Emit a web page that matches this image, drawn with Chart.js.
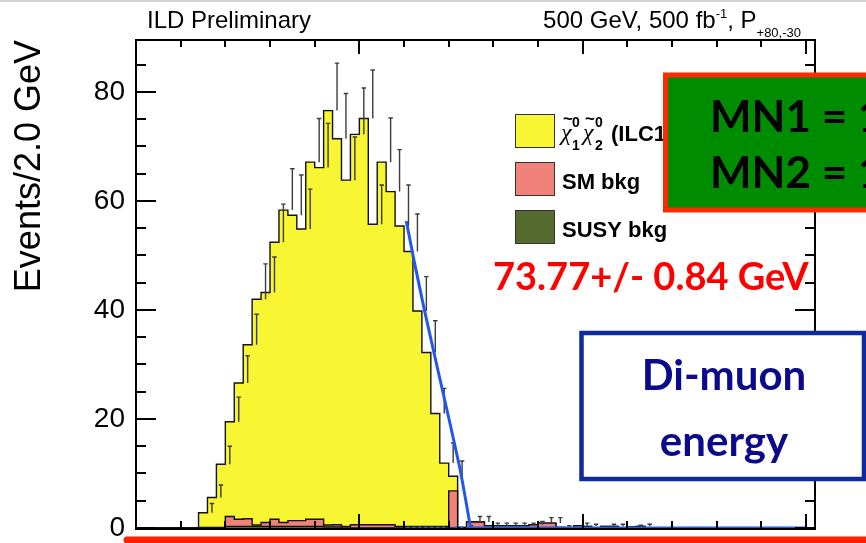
<!DOCTYPE html>
<html>
<head>
<meta charset="utf-8">
<script src="https://cdn.jsdelivr.net/npm/chart.js@4.4.1/dist/chart.umd.min.js"></script>
<style>
  html, body { margin: 0; padding: 0; background: #fff; }
  #wrap { width: 866px; height: 543px; }
</style>
</head>
<body>
<div id="wrap"><canvas id="chart" width="866" height="543"></canvas></div>
<script>
// di-muon energy histogram, 2 GeV bins from 0 to 152 GeV
const BIN_WIDTH = 2;
const binEdges = Array.from({ length: 77 }, (_, i) => i * BIN_WIDTH);

// chi1 chi2 signal
const signal = [
  0, 0, 0, 0, 0, 0, 0, 0, 2.7, 5.5,
  11.6, 17.4, 25.0, 31.9, 41.4, 42.2, 50.8, 57.3, 56.0, 53.5,
  65.5, 64.5, 76.0, 70.8, 63.5, 71.6, 74.5, 55.1, 66.5, 61.1,
  55.1, 50.4, 39.5, 31.9, 20.7, 11.6, 2.7, 0, 0, 0,
  0, 0, 0, 0, 0, 0, 0, 0, 0, 0,
  0, 0, 0, 0, 0, 0, 0, 0, 0, 0,
  0, 0, 0, 0, 0, 0, 0, 0, 0, 0,
  0, 0, 0, 0, 0, 0
];

const smBkg = [
  0, 0, 0, 0, 0, 0, 0, 0, 0.1, 0.1,
  0.1, 1.8, 1.3, 1.4, 0.25, 0.7, 1.3, 0.7, 1.05, 1.05,
  1.3, 1.3, 0.35, 0.4, 0.3, 0.6, 0.6, 0.6, 0.6, 0.6,
  0.3, 0.3, 0.3, 0.3, 0.3, 0.3, 6.8, 0.1, 1.1, 1.1,
  0.4, 0.4, 0.4, 0.4, 0.4, 0.6, 0.9, 0.9, 0.1, 0,
  0.4, 0.3, 0, 0.3, 0.3, 0, 0.2, 0.3, 0, 0,
  0, 0, 0, 0, 0, 0, 0, 0, 0, 0,
  0, 0, 0, 0, 0, 0
];

const susyBkg = [
  0, 0, 0, 0, 0, 0, 0, 0, 0, 0,
  0, 0.3, 0.3, 0.3, 0.3, 0.3, 0.3, 0.3, 0.3, 0.3,
  0.3, 0.3, 0.2, 0.2, 0, 0, 0, 0, 0, 0,
  0, 0, 0, 0, 0, 0, 0, 0, 0, 0,
  0, 0, 0, 0, 0, 0, 0, 0, 0, 0,
  0, 0, 0, 0, 0, 0, 0, 0, 0, 0,
  0, 0, 0, 0, 0, 0, 0, 0, 0, 0,
  0, 0, 0, 0, 0, 0
];

// upper error on the summed stack
const errUp = [
  0, 0, 0, 0, 0, 0, 0, 0, 1.7, 2.3,
  3.3, 4.5, 5.0, 5.6, 6.5, 6.5, 7.0, 7.6, 7.4, 7.3,
  8.0, 8.1, 8.7, 8.3, 7.9, 8.5, 8.9, 7.2, 8.1, 7.7,
  7.5, 6.9, 6.3, 5.8, 4.6, 3.7, 2.8, 0.3, 1.0, 1.0,
  0.5, 0.5, 0.5, 0.5, 0.5, 0.6, 1.0, 1.0, 0.3, 0,
  0.5, 0.4, 0, 0.4, 0.4, 0, 0.3, 0.4, 0, 0,
  0, 0, 0, 0, 0, 0, 0, 0, 0, 0,
  0, 0, 0, 0, 0, 0
];

// endpoint fit
const fitEnergy = [60.5, 62.4, 64.4, 66.3, 68.1, 70.4, 72.6, 73.8, 74.9, 150];
const fitValue = [56.3, 48.4, 40.6, 33.6, 27.1, 18.8, 10.6, 5.2, 0, 0];

const yTickLabels = [0, 20, 40, 60, 80];
const X_MAX = 152;
const Y_MAX = 89.5;

const YELLOW = '#f8f533';
const SALMON = '#f08279';
const OLIVE = '#556a2e';
const FIT_BLUE = '#2257ee';

// stacked layer tops: SUSY at the bottom, SM on it, signal on top
const susyTop = susyBkg.slice();
const smTop = smBkg.map((v, i) => v + susyTop[i]);
const totalTop = signal.map((v, i) => v + smTop[i]);

function stepPoints(values) {
  const pts = values.map((v, i) => ({ x: binEdges[i], y: v }));
  pts.push({ x: binEdges[values.length], y: values[values.length - 1] });
  return pts;
}

const CAP = 0.5;
const errPoints = [];
totalTop.forEach((t, i) => {
  if (!errUp[i]) return;
  const c = binEdges[i] + BIN_WIDTH / 2;
  const hi = t + errUp[i];
  errPoints.push(
    { x: c, y: t }, { x: c, y: hi }, { x: c, y: null },
    { x: c - CAP, y: hi }, { x: c + CAP, y: hi }, { x: c + CAP, y: null }
  );
});

const fitPoints = fitEnergy.map((e, i) => ({ x: e, y: fitValue[i] }));
const fitBase = [{ x: fitEnergy[0], y: 0 }, { x: fitEnergy[fitEnergy.length - 2], y: 0 }];

const histStyle = {
  stepped: 'after',
  borderColor: '#111',
  borderWidth: 1.4,
  pointRadius: 0,
  order: 3,
};

// frame with inward ticks on all four sides
const rootFrame = {
  id: 'rootFrame',
  afterDatasetsDraw(chart) {
    const { ctx, chartArea: a, scales: { x, y } } = chart;
    ctx.save();
    ctx.strokeStyle = '#000';
    ctx.lineWidth = 2;
    ctx.strokeRect(a.left, a.top, a.right - a.left, a.bottom - a.top + 1);
    ctx.beginPath();
    for (let v = 0; v <= x.max; v += 10) {
      const px = Math.round(x.getPixelForValue(v));
      const len = v % 50 === 0 ? 14 : 7;
      ctx.moveTo(px, a.bottom);
      ctx.lineTo(px, a.bottom - len);
      ctx.moveTo(px, a.top);
      ctx.lineTo(px, a.top + len);
    }
    for (let v = 0; v <= y.max; v += 5) {
      const py = Math.round(y.getPixelForValue(v));
      const len = v % 20 === 0 ? 20 : 10;
      ctx.moveTo(a.left, py);
      ctx.lineTo(a.left + len, py);
      ctx.moveTo(a.right, py);
      ctx.lineTo(a.right - len, py);
    }
    ctx.stroke();
    ctx.restore();
  }
};

function drawSupSub(ctx, x, base, sup, sub) {
  ctx.font = 'bold 14px "Liberation Sans"';
  ctx.fillText(sup, x, base - 13);
  ctx.fillText(sub, x, base + 10);
}

// plot labels, legend and the slide annotations
const annotations = {
  id: 'annotations',
  afterDraw(chart) {
    const ctx = chart.ctx;
    const ds = chart.data.datasets;
    ctx.save();
    ctx.textAlign = 'left';
    ctx.textBaseline = 'alphabetic';

    ctx.fillStyle = '#d6d6d6';
    ctx.fillRect(0, 0, 866, 2);

    ctx.fillStyle = '#000';
    ctx.font = '24px "Liberation Sans"';
    ctx.fillText('ILD Preliminary', 147, 28);

    // beam conditions, right-aligned to the frame corner
    const big = '24px "Liberation Sans"';
    const small = '13px "Liberation Sans"';
    const parts = [
      { t: '500 GeV, 500 fb', f: big, dy: 0 },
      { t: '-1', f: small, dy: -10 },
      { t: ', P', f: big, dy: 0 },
      { t: '+80,-30', f: small, dy: 9 },
    ];
    let total = 0;
    parts.forEach(p => { ctx.font = p.f; p.w = ctx.measureText(p.t).width; total += p.w; });
    let hx = 801 - total;
    parts.forEach(p => {
      ctx.font = p.f;
      ctx.fillText(p.t, hx, 28 + p.dy);
      hx += p.w;
    });

    // legend
    const rows = [
      { d: ds[2], top: 114 },
      { d: ds[1], top: 162 },
      { d: ds[0], top: 210 },
    ];
    rows.forEach(r => {
      ctx.fillStyle = r.d.backgroundColor;
      ctx.fillRect(515, r.top, 39, 33);
      ctx.strokeStyle = '#333';
      ctx.lineWidth = 1;
      ctx.strokeRect(515.5, r.top + 0.5, 39, 33);
    });
    ctx.fillStyle = '#000';
    ctx.font = 'bold 22px "Liberation Sans"';
    ctx.fillText(ds[1].label, 562, 189);
    ctx.fillText(ds[0].label, 562, 237);

    ctx.font = 'italic 24px "Liberation Serif"';
    ctx.fillText('\u03c7', 561, 140);
    ctx.fillText('\u03c7', 583, 140);
    ctx.font = 'bold 17px "Liberation Sans"';
    ctx.fillText('~', 563, 124);
    ctx.fillText('~', 585, 124);
    drawSupSub(ctx, 572, 140, '0', '1');
    drawSupSub(ctx, 595, 140, '0', '2');
    ctx.font = 'bold 22px "Liberation Sans"';
    ctx.fillText('(ILC1', 611, 141);

    // fitted endpoint
    ctx.fillStyle = '#ff0000';
    ctx.font = 'bold 38px Lato';
    ctx.fillText('73.77+/- 0.84 GeV', 493, 290);

    // mass box
    ctx.fillStyle = '#008c00';
    ctx.fillRect(665, 75, 210, 135);
    ctx.strokeStyle = '#ff2a00';
    ctx.lineWidth = 5;
    ctx.strokeRect(665.5, 75, 215, 135);
    ctx.fillStyle = '#000';
    ctx.font = 'bold 44px Lato';
    ctx.fillText('MN1 = 1', 710, 132);
    ctx.fillText('MN2 = 1', 710, 188);

    // observable box
    ctx.fillStyle = '#fff';
    ctx.fillRect(581, 333, 283, 146);
    ctx.strokeStyle = '#0d2b9e';
    ctx.lineWidth = 4.5;
    ctx.strokeRect(581.5, 333, 282.5, 146);
    ctx.fillStyle = '#0a0a8a';
    ctx.textAlign = 'center';
    ctx.font = 'bold 42px Lato';
    ctx.fillText('Di-muon', 724, 390);
    ctx.fillText('energy', 724, 456);

    // slide rule under the plot
    ctx.strokeStyle = '#ff2200';
    ctx.lineWidth = 7;
    ctx.lineCap = 'round';
    ctx.beginPath();
    ctx.moveTo(127, 540);
    ctx.lineTo(870, 540);
    ctx.stroke();
    ctx.restore();
  }
};

new Chart(document.getElementById('chart'), {
  type: 'line',
  data: {
    datasets: [
      { label: 'SUSY bkg', data: stepPoints(susyTop), backgroundColor: OLIVE, fill: 'origin', ...histStyle },
      { label: 'SM bkg', data: stepPoints(smTop), backgroundColor: SALMON, fill: '-1', ...histStyle },
      { label: 'signal', data: stepPoints(totalTop), backgroundColor: YELLOW, fill: '-1', ...histStyle },
      { label: 'errors', data: errPoints, borderColor: '#3c3c3c', borderWidth: 1.4, pointRadius: 0, fill: false, spanGaps: false, order: 2 },
      { label: 'fit', data: fitPoints, borderColor: FIT_BLUE, borderWidth: 3, pointRadius: 0, fill: false, order: 1 },
      { label: 'fit bkg', data: fitBase, borderColor: FIT_BLUE, borderWidth: 3, borderDash: [3, 3], pointRadius: 0, fill: false, order: 1 },
    ]
  },
  options: {
    responsive: false,
    animation: false,
    devicePixelRatio: 1,
    layout: { padding: { top: 40, right: 51, bottom: 15, left: 0 } },
    plugins: {
      legend: { display: false },
      tooltip: { enabled: false },
    },
    scales: {
      x: {
        type: 'linear',
        min: 0,
        max: X_MAX,
        display: false,
      },
      y: {
        type: 'linear',
        min: 0,
        max: Y_MAX,
        afterFit: (s) => {
          s.width = 136;
          s.paddingTop = 0;
          s.paddingBottom = 0;
        },
        afterBuildTicks: (s) => { s.ticks = yTickLabels.map(v => ({ value: v })); },
        grid: { display: false, drawTicks: false },
        border: { display: false },
        ticks: {
          padding: 11,
          color: '#000',
          font: { family: '"Liberation Sans"', size: 28 },
        },
        title: {
          display: true,
          text: 'Events/2.0 GeV',
          align: 'end',
          color: '#000',
          padding: { top: 8, bottom: 0 },
          font: { family: '"Liberation Sans"', size: 36 },
        },
      },
    },
  },
  plugins: [rootFrame, annotations],
});
</script>
</body>
</html>
